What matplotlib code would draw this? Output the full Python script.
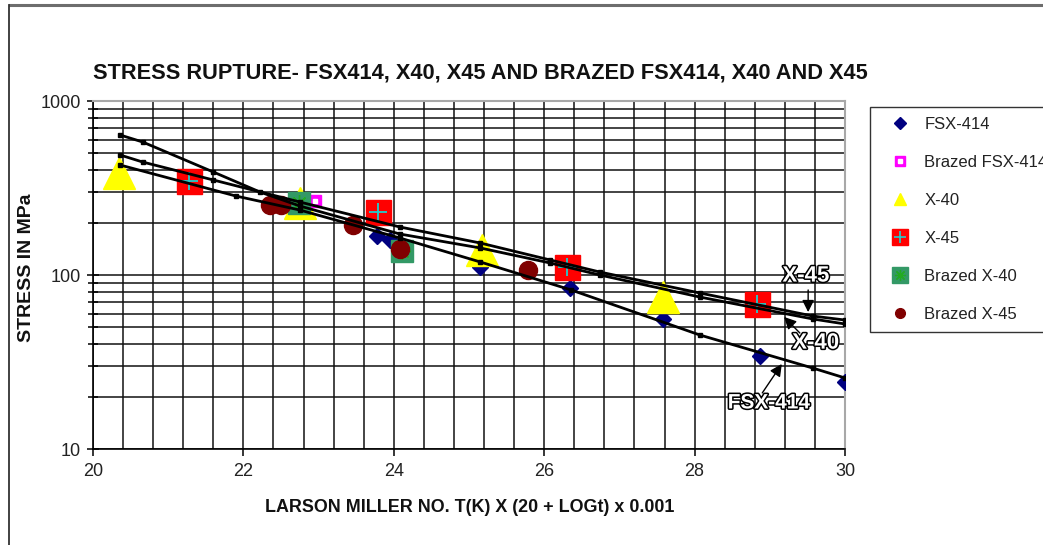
import matplotlib
matplotlib.use("Agg")
import matplotlib.pyplot as plt
import matplotlib.patheffects as pe
from matplotlib import font_manager
from matplotlib.lines import Line2D
from matplotlib.ticker import MultipleLocator, LogLocator, NullFormatter, FuncFormatter

# ---- data: Larson-Miller parameter vs rupture stress (MPa) ----
fsx414_lm = [23.78, 23.95, 25.15, 26.34, 27.58, 28.87, 30.00]
fsx414_mpa = [167, 159, 111, 84, 55.8, 34.2, 24.3]

brazed_fsx414_lm = [22.95]
brazed_fsx414_mpa = [266]

x40_lm = [20.35, 22.75, 25.17, 27.58]
x40_mpa = [385, 259, 139, 75]

x45_lm = [21.28, 23.79, 26.30, 28.83]
x45_mpa = [347, 230, 111, 68]

brazed_x40_lm = [22.74, 24.11]
brazed_x40_mpa = [259, 137]

brazed_x45_lm = [22.35, 22.50, 23.46, 24.08, 25.78]
brazed_x45_mpa = [252, 252, 194, 141, 107]

# trend curves
fit_fsx414_lm = [20.36, 21.90, 22.75, 24.08, 25.15, 26.36, 28.07, 29.57, 30.00]
fit_fsx414_mpa = [428.7, 284.4, 236.3, 163.2, 118.8, 82.0, 45.2, 29.2, 25.6]

fit_x45_lm = [20.36, 20.66, 21.60, 22.75, 24.08, 25.15, 26.08, 26.74, 28.07, 29.57, 30.00]
fit_x45_mpa = [489.5, 446.0, 351.6, 262.7, 188.8, 152.7, 122.0, 104.0, 78.8, 58.1, 55.1]

fit_x40_lm = [20.36, 20.66, 21.60, 22.22, 22.75, 24.08, 25.15, 26.08, 26.74, 28.07, 29.57, 30.00]
fit_x40_mpa = [637.8, 581.4, 390.8, 299.9, 249.2, 172.0, 143.0, 117.2, 100.0, 74.7, 55.9, 52.3]

series_labels = ["FSX-414", "Brazed FSX-414", "X-40", "X-45", "Brazed X-40", "Brazed X-45"]

available = {f.name for f in font_manager.fontManager.ttflist}
SANS = "Liberation Sans" if "Liberation Sans" in available else "DejaVu Sans"
NARROW = "Liberation Sans Narrow" if "Liberation Sans Narrow" in available else SANS

plt.rcParams["font.family"] = [SANS, "DejaVu Sans"]

fig = plt.figure(figsize=(10.43, 5.45), dpi=100)
W, H = 1043, 545
ax = fig.add_axes([93 / W, 1 - 449 / H, (845 - 93) / W, (449 - 101) / H])

ax.set_yscale("log")
ax.set_xlim(20, 30)
ax.set_ylim(10, 1000)
ax.xaxis.set_major_locator(MultipleLocator(2))
ax.xaxis.set_minor_locator(MultipleLocator(0.4))
ax.yaxis.set_major_locator(LogLocator(base=10))
ax.yaxis.set_minor_locator(LogLocator(base=10, subs=range(2, 10)))
ax.yaxis.set_minor_formatter(NullFormatter())
ax.yaxis.set_major_formatter(FuncFormatter(lambda v, p: f"{v:g}"))
ax.xaxis.set_major_formatter(FuncFormatter(lambda v, p: f"{v:g}"))

ax.grid(which="both", color="#111111", linewidth=1.1)
ax.set_axisbelow(True)

ax.tick_params(axis="x", which="major", direction="out", length=5, width=1.1,
               labelsize=13, pad=5, colors="black")
ax.tick_params(axis="x", which="minor", length=0)
ax.tick_params(axis="y", which="major", direction="inout", length=9, width=1.1,
               labelsize=13, pad=4)
ax.tick_params(axis="y", which="minor", direction="inout", length=7, width=1.1)
for lab in ax.get_xticklabels() + ax.get_yticklabels():
    lab.set_color("#222222")

for side in ("left", "bottom"):
    ax.spines[side].set_color("black")
    ax.spines[side].set_linewidth(1.2)
for side in ("top", "right"):
    ax.spines[side].set_color("#a8a8a8")
    ax.spines[side].set_linewidth(1.5)

# scatter series
ax.plot(fsx414_lm, fsx414_mpa, ls="none", marker="D", ms=8, mfc="#000080",
        mec="#000080", zorder=3)
ax.plot(brazed_fsx414_lm, brazed_fsx414_mpa, ls="none", marker="s", ms=8,
        mfc="#ff00ff", mec="#ff00ff", zorder=4)
ax.plot(brazed_fsx414_lm, brazed_fsx414_mpa, ls="none", marker="s", ms=3,
        mfc="white", mec="white", zorder=4)
ax.plot(x40_lm, x40_mpa, ls="none", marker="^", ms=23, mfc="#ffff00",
        mec="#ffff00", zorder=5)
ax.plot(x45_lm, x45_mpa, ls="none", marker="s", ms=18, mfc="#ff0000",
        mec="#ff0000", zorder=6)
ax.plot(x45_lm, x45_mpa, ls="none", marker="+", ms=13, mew=1.3, color="#22cccc",
        zorder=6)
ax.plot(brazed_x40_lm, brazed_x40_mpa, ls="none", marker="s", ms=16,
        mfc="#339966", mec="#339966", zorder=7)
ax.plot(brazed_x40_lm, brazed_x40_mpa, ls="none", marker=(8, 2, 0), ms=12,
        mew=1.0, color="#22aa22", zorder=7)
ax.plot(brazed_x45_lm, brazed_x45_mpa, ls="none", marker="o", ms=13,
        mfc="#800000", mec="#800000", zorder=8)

# trend curves
for lm, mpa in ((fit_fsx414_lm, fit_fsx414_mpa), (fit_x45_lm, fit_x45_mpa),
                (fit_x40_lm, fit_x40_mpa)):
    ax.plot(lm, mpa, color="black", lw=2.0, marker="s", ms=3, zorder=10,
            solid_joinstyle="round")

# curve labels
label_kw = dict(fontweight="bold", family=[NARROW, "DejaVu Sans"],
                color="white", ha="center", va="center", zorder=12,
                annotation_clip=False)
arrow_kw = dict(arrowstyle="-|>", color="black", lw=1.0, mutation_scale=18,
                shrinkA=0, shrinkB=0)
ax.annotate("", xy=(29.51, 61.2), xytext=(29.51, 82.0), arrowprops=arrow_kw,
            zorder=12, annotation_clip=False)
ax.annotate("", xy=(29.19, 57.4), xytext=(29.40, 46.4), arrowprops=arrow_kw,
            zorder=12, annotation_clip=False)
ax.annotate("", xy=(29.16, 30.8), xytext=(28.90, 21.0), arrowprops=arrow_kw,
            zorder=12, annotation_clip=False)
for txt, pos, size in (("X-45", (29.48, 98.6), 16), ("X-40", (29.61, 40.6), 16),
                       ("FSX-414", (28.99, 18.4), 15)):
    t = ax.annotate(txt, xy=pos, fontsize=size, **label_kw)
    t.set_path_effects([pe.Stroke(linewidth=2.2, foreground="black"),
                        pe.Normal()])

# titles
fig.text(480 / W, 1 - 73 / H,
         "STRESS RUPTURE- FSX414, X40, X45 AND BRAZED FSX414, X40 AND X45",
         ha="center", va="center", fontsize=15.7, fontweight="bold",
         family=[NARROW, "DejaVu Sans"], color="#111111")
fig.text(470 / W, 1 - 508 / H, "LARSON MILLER NO. T(K) X (20 + LOGt) x 0.001",
         ha="center", va="center", fontsize=12.9, fontweight="bold",
         family=[NARROW, "DejaVu Sans"], color="#111111")
fig.text(27 / W, 1 - 268 / H, "STRESS IN MPa", ha="center", va="center",
         rotation=90, fontsize=14, fontweight="bold", color="#111111")

# legend
h_fsx = Line2D([], [], ls="none", marker="D", ms=6, mfc="#000080", mec="#000080")
h_bfsx = (Line2D([], [], ls="none", marker="s", ms=7, mfc="#ff00ff", mec="#ff00ff"),
          Line2D([], [], ls="none", marker="s", ms=3, mfc="white", mec="white"))
h_x40 = Line2D([], [], ls="none", marker="^", ms=9, mfc="#ffff00", mec="#ffff00")
h_x45 = (Line2D([], [], ls="none", marker="s", ms=11, mfc="#ff0000", mec="#ff0000"),
         Line2D([], [], ls="none", marker="+", ms=8, mew=1.2, color="#22cccc"))
h_bx40 = (Line2D([], [], ls="none", marker="s", ms=11, mfc="#339966", mec="#339966"),
          Line2D([], [], ls="none", marker=(8, 2, 0), ms=8, mew=0.9, color="#22aa22"))
h_bx45 = Line2D([], [], ls="none", marker="o", ms=7, mfc="#800000", mec="#800000")
leg = fig.legend([h_fsx, h_bfsx, h_x40, h_x45, h_bx40, h_bx45], series_labels,
                 loc="upper left", bbox_to_anchor=(870 / W, 1 - 107 / H),
                 frameon=True, fancybox=False, shadow=False, fontsize=12,
                 borderaxespad=0, borderpad=0.6, labelspacing=1.38,
                 handlelength=2.4, handletextpad=0.25)
leg.get_frame().set_edgecolor("black")
leg.get_frame().set_linewidth(1.0)
for t in leg.get_texts():
    t.set_color("#222222")

# outer frame of the chart area
fig.add_artist(Line2D([10 / W, 1.0], [1 - 5 / H, 1 - 5 / H], color="#6d6d6d",
                      lw=2.2, transform=fig.transFigure))
fig.add_artist(Line2D([9 / W, 9 / W], [0, 1 - 5 / H], color="#333333",
                      lw=1.3, transform=fig.transFigure))

fig.savefig("out.png", dpi=100)
